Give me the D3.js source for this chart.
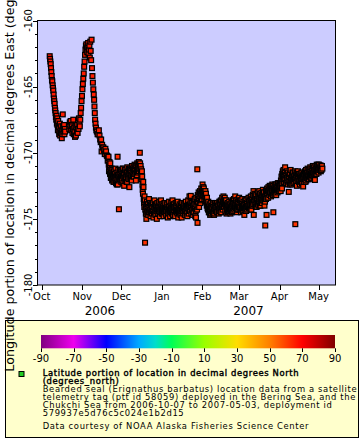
<!DOCTYPE html>
<html><head><meta charset="utf-8">
<script src="https://cdn.jsdelivr.net/npm/d3@7"></script>
<style>body{margin:0;background:#fff}svg{display:block;font-family:"DejaVu Sans",sans-serif}</style>
</head><body><svg id="c" width="360" height="440"></svg>
<script>
// Each row: [day of month, latitude (deg N), longitude fixes of that day (deg E)...]
const oct2006 = [
 [7,66.6,-162.7,-162.9,-163.1,-163.3],[8,66.5,-163.6,-163.9,-164.2,-164.5],[9,66.3,-164.6,-164.9,-165.1,-165.3],
 [10,66.1,-165.6,-165.9,-166.1,-166.3],[11,65.9,-166.6,-166.8,-167.0,-167.3],[12,65.8,-167.5,-167.2,-167.8,-167.4],
 [13,65.8,-167.9,-168.3,-167.6,-168.0],[14,65.8,-168.1,-168.6,-168.4,-167.8],[15,65.7,-168.7,-168.2,-168.5,-168.0],
 [16,65.7,-168.5,-168.9,-168.3,-168.6],[17,65.7,-167.1,-168.0,-168.4,-168.2],[18,65.7,-167.9,-168.6,-168.2,-168.4],
 [22,65.8,-168.2,-167.7,-168.0],[23,65.8,-167.6,-168.3,-167.9],[24,65.8,-168.0,-168.5,-168.2],[25,65.8,-167.5,-168.6,-168.1],
 [26,65.8,-168.4,-168.8,-168.0],[27,65.8,-168.7,-168.1,-168.4],[28,65.8,-167.9,-168.5,-168.2],[29,65.9,-168.2,-167.4,-167.8],
 [30,66.0,-168.0,-167.5,-167.0],[31,66.0,-166.6,-166.1,-165.7]
];
const nov2006 = [
 [1,65.9,-165.2,-164.8,-164.4],[2,65.8,-164.0,-163.5,-163.1],[3,65.7,-162.6,-162.2,-161.9],
 [4,65.6,-161.8,-162.1,-162.4],[5,65.6,-162.0,-161.7,-162.5],[6,65.6,-162.2,-161.9,-162.8],
 [7,65.6,-161.6,-162.3,-163.0],[8,65.6,-161.45,-163.6,-164.2],[9,65.5,-164.7,-165.2,-165.6],
 [10,65.4,-166.0,-166.5,-167.0,-167.5],[11,65.3,-167.8,-168.1,-168.3],[12,65.2,-168.4,-168.6],
 [13,65.1,-168.6,-168.3],[14,65.0,-168.7,-169.0],[15,64.9,-169.2,-169.0,-169.9],[16,64.8,-169.4,-169.6],
 [17,64.7,-169.6,-169.8],[18,64.6,-170.1,-169.7],[19,64.5,-169.9,-170.2],[20,64.4,-170.25,-170.6,-170.4],
 [21,64.3,-170.3,-170.9,-171.4,-171.1,-170.7],[22,64.2,-171.1,-171.6,-170.8,-171.3,-171.9],
 [23,64.1,-171.5,-171.9,-171.2,-171.7,-172.1],[24,64.0,-171.3,-172.0,-171.7,-171.5,-172.2],
 [25,64.0,-171.8,-171.4,-172.2,-171.6,-171.9],[26,63.9,-171.6,-172.1,-171.2,-171.8,-172.3],
 [27,63.9,-171.9,-171.5,-172.4,-171.7,-172.0],[28,63.9,-170.3,-172.4,-171.7,-171.3,-171.9,-172.1],
 [29,63.8,-174.27,-171.8,-171.5,-172.0,-171.3],[30,63.8,-171.6,-172.0,-171.3,-171.8,-172.2]
];
const dec2006 = [
 [1,63.7,-171.4,-171.9,-172.1,-171.6,-171.2],[2,63.7,-171.7,-171.2,-172.3,-171.9,-171.5],
 [3,63.6,-172.5,-171.6,-171.9,-171.3,-172.1],[4,63.6,-171.3,-171.8,-172.0,-171.5,-172.2],
 [5,63.6,-171.5,-172.2,-171.1,-171.7,-171.9],[6,63.5,-171.8,-171.4,-172.0,-171.2,-171.6],
 [7,63.5,-172.6,-171.6,-171.2,-171.9,-171.4],[8,63.5,-171.3,-171.9,-171.5,-171.7,-172.1],
 [9,63.4,-171.0,-171.7,-171.4,-171.2,-171.8],[10,63.4,-171.5,-171.1,-171.8,-171.3,-171.6],
 [11,63.4,-170.9,-171.4,-171.2,-171.6,-171.0],[12,63.3,-172.1,-171.0,-171.5,-171.3,-171.7],
 [13,63.3,-170.8,-171.3,-171.1,-171.5,-170.9],[14,63.3,-171.0,-170.7,-171.4,-171.2,-170.9],
 [15,63.2,-170.0,-170.8,-171.2,-171.0,-171.4],[16,63.1,-171.25,-171.6,-172.0,-171.4,-171.8],
 [17,62.9,-172.4,-172.8,-173.1,-172.2,-172.6],[18,62.7,-173.5,-173.8,-174.1,-173.3,-173.6],
 [19,62.5,-176.8,-174.3,-173.9,-174.6,-174.1],[20,62.3,-175.0,-174.2,-173.7,-174.5,-173.9],
 [21,62.2,-174.4,-173.9,-174.7,-174.1,-174.5],[22,62.1,-173.5,-174.1,-174.5,-173.8,-174.3],
 [23,62.0,-174.3,-174.8,-173.9,-174.5,-174.1],[24,62.0,-174.0,-174.6,-174.2,-173.8,-174.4],
 [25,61.9,-173.8,-174.4,-174.9,-174.1,-174.6],[26,61.9,-174.1,-173.6,-174.5,-173.9,-174.3],
 [27,61.9,-174.7,-174.2,-173.9,-174.4,-174.0],[28,61.8,-175.0,-174.3,-173.8,-174.6,-174.1],
 [29,61.8,-174.2,-174.6,-174.0,-174.4,-173.8],[30,61.8,-173.7,-174.3,-174.8,-174.1,-174.5],
 [31,61.8,-174.1,-173.6,-174.4,-173.9,-174.6]
];
const jan2007 = [
 [1,61.7,-174.3,-173.9,-174.6,-174.1,-174.4],[2,61.7,-174.0,-174.8,-174.4,-174.2,-173.8],
 [3,61.7,-174.5,-174.1,-173.8,-174.3,-174.6],[4,61.7,-174.2,-174.7,-174.4,-173.9,-174.1],
 [5,61.7,-173.9,-174.3,-174.9,-174.5,-174.1],[6,61.7,-174.6,-174.1,-173.7,-174.3,-174.4],
 [7,61.7,-174.3,-174.8,-174.0,-174.5,-174.2],[8,61.7,-173.8,-174.4,-174.2,-174.6,-174.0],
 [9,61.7,-173.6,-174.1,-174.7,-174.3,-173.9],[10,61.7,-174.3,-173.9,-174.5,-174.1,-174.7],
 [11,61.7,-174.8,-174.2,-173.8,-174.4,-174.0],[12,61.7,-174.0,-174.5,-174.3,-173.8,-174.6],
 [13,61.7,-173.7,-174.4,-174.9,-174.1,-174.2],[14,61.7,-174.6,-174.1,-173.9,-174.3,-174.5],
 [15,61.7,-174.2,-174.7,-174.0,-174.4,-173.8],[16,61.7,-174.9,-174.3,-173.8,-174.5,-174.1],
 [17,61.7,-174.1,-174.6,-174.4,-173.9,-174.2],[18,61.7,-173.9,-174.2,-174.7,-174.4,-174.0],
 [19,61.7,-174.4,-173.7,-174.1,-174.6,-174.3],[20,61.7,-174.0,-174.5,-174.8,-174.2,-173.9],
 [21,61.7,-173.6,-174.2,-174.6,-174.0,-174.4],[22,61.7,-173.3,-173.9,-174.4,-174.1,-173.7],
 [23,61.7,-173.26,-174.1,-174.6,-173.8,-174.3],[24,61.7,-174.3,-173.8,-174.7,-174.0,-174.5],
 [25,61.7,-174.0,-174.5,-173.7,-174.2,-173.9],[26,61.7,-173.5,-174.2,-174.8,-173.9,-174.4],
 [27,61.7,-174.9,-173.4,-174.0,-173.7,-174.3],[28,61.7,-171.25,-175.3,-173.2,-173.7,-174.1,-173.5],
 [29,61.7,-173.0,-173.5,-174.1,-173.3,-173.8],[30,61.7,-172.9,-173.3,-173.8,-173.1,-173.6],
 [31,61.7,-172.7,-173.1,-173.5,-172.9,-173.3]
];
const feb2007 = [
 [1,61.7,-172.4,-172.8,-173.2,-172.6,-173.0],[2,61.7,-172.7,-173.1,-173.5,-172.9,-173.3],
 [3,61.7,-173.3,-172.9,-173.7,-173.1,-173.5],[4,61.7,-173.6,-174.0,-173.4,-173.8,-174.2],
 [5,61.7,-173.9,-174.3,-173.7,-174.1,-174.5],[6,61.7,-174.1,-174.5,-173.9,-174.3,-174.7],
 [7,61.6,-174.3,-173.8,-174.6,-174.1,-174.4],[8,61.6,-174.0,-174.4,-174.2,-174.6,-173.8],
 [9,61.6,-174.5,-173.9,-174.1,-174.3,-174.7],[10,61.6,-174.6,-174.2,-173.8,-174.0,-174.4],
 [11,61.6,-174.0,-174.4,-174.2,-173.8,-174.5],[12,61.6,-173.8,-174.3,-174.5,-174.1,-174.0],
 [13,61.6,-174.1,-173.9,-174.6,-174.3,-173.7],[14,61.6,-174.4,-174.0,-173.7,-174.2,-174.5],
 [15,61.6,-173.6,-174.2,-174.5,-173.9,-174.1],[16,61.6,-173.4,-173.9,-174.3,-173.7,-174.1],
 [17,61.6,-173.3,-173.7,-174.1,-173.5,-173.9],[18,61.6,-173.4,-173.8,-174.4,-173.6,-174.0],
 [19,61.6,-173.6,-174.1,-174.6,-173.9,-174.3],[20,61.6,-174.2,-173.8,-174.5,-174.0,-174.3],
 [21,61.6,-174.0,-174.4,-173.7,-174.2,-173.9],[22,61.6,-174.3,-173.9,-174.6,-174.1,-174.4],
 [23,61.6,-173.8,-174.2,-174.5,-174.0,-173.6],[24,61.6,-174.1,-173.6,-174.4,-173.9,-174.2],
 [25,61.6,-173.5,-174.0,-174.3,-173.8,-174.1],[26,61.6,-173.3,-173.8,-174.2,-173.6,-174.0],
 [27,61.6,-173.6,-174.1,-174.5,-173.8,-174.3],[28,61.6,-174.0,-173.7,-174.3,-173.5,-174.1]
];
const mar2007 = [
 [1,61.6,-173.4,-173.9,-174.3,-173.6,-174.1],[2,61.6,-174.1,-173.6,-174.5,-173.8,-174.3],
 [3,61.6,-173.8,-174.2,-173.5,-174.0,-174.4],[4,61.6,-174.0,-174.4,-173.7,-174.2,-173.9],
 [5,61.6,-174.7,-173.9,-174.2,-173.6,-174.4],[6,61.6,-173.6,-174.1,-174.4,-173.8,-174.2],
 [7,61.6,-173.8,-174.3,-173.5,-174.0,-174.1],[8,61.6,-174.0,-173.4,-174.2,-173.7,-173.9],
 [9,61.6,-173.6,-174.1,-173.9,-173.4,-174.3],[10,61.7,-173.3,-173.8,-174.3,-173.6,-174.0],
 [11,61.7,-173.5,-174.0,-173.2,-173.7,-173.9],[12,61.7,-172.9,-174.7,-173.6,-173.3,-173.9],
 [13,61.7,-173.4,-173.1,-173.9,-173.6,-174.1],[14,61.7,-173.2,-173.7,-174.1,-173.5,-173.9],
 [15,61.7,-173.5,-173.0,-173.8,-173.3,-174.0],[16,61.7,-173.3,-173.7,-172.9,-173.5,-174.0],
 [17,61.7,-173.1,-173.6,-174.0,-173.4,-173.8],[18,61.8,-173.05,-173.4,-173.8,-173.2,-173.6],
 [19,61.8,-173.2,-172.8,-173.6,-173.0,-173.4],[20,61.8,-173.0,-173.5,-174.0,-173.3,-173.7],
 [21,61.8,-175.5,-173.3,-172.9,-173.5,-173.1],[22,61.8,-174.7,-173.1,-172.7,-173.4,-172.9],
 [23,61.8,-172.9,-173.4,-172.6,-173.1,-172.8],[24,61.9,-172.8,-173.2,-172.5,-173.0,-172.7],
 [25,61.9,-173.0,-172.6,-173.3,-172.8,-172.5],[26,61.9,-172.7,-173.1,-172.4,-172.9,-173.2],
 [27,61.9,-172.5,-174.5,-172.9,-172.7,-173.1],[28,61.9,-172.6,-173.0,-172.8,-172.4,-173.2],
 [29,61.9,-172.4,-172.9,-173.2,-172.6,-172.8],[30,62.0,-172.7,-172.5,-173.0,-172.3,-172.8],
 [31,62.0,-172.6,-172.3,-172.9,-172.5,-172.7]
];
const apr2007 = [
 [1,62.0,-172.8,-172.3,-172.6,-172.5,-172.9],[2,62.0,-172.1,-172.5,-171.8,-172.3,-172.7],
 [3,62.0,-171.6,-172.0,-171.4,-171.8,-172.2],[4,62.0,-171.3,-171.8,-172.2,-171.6,-172.0],
 [5,62.0,-171.5,-171.1,-172.0,-171.7,-172.3],[6,62.0,-171.7,-172.3,-171.4,-171.9,-172.1],
 [7,62.0,-171.9,-171.5,-172.4,-171.7,-172.1],[8,62.0,-172.96,-171.8,-172.2,-171.6,-172.4],
 [9,62.0,-171.6,-172.1,-171.3,-171.9,-172.3],[10,62.0,-171.9,-172.4,-171.7,-172.1,-171.5],
 [11,62.0,-172.0,-171.5,-172.3,-171.8,-172.1],[12,62.0,-171.8,-172.2,-171.6,-172.0,-171.4],
 [13,62.0,-175.4,-172.0,-171.7,-172.2,-171.5],[14,62.0,-171.9,-172.5,-171.5,-172.1,-171.7],
 [15,62.1,-171.4,-172.0,-171.8,-171.6,-172.2],[16,62.1,-172.1,-171.6,-172.4,-171.8,-172.0],
 [17,62.1,-171.7,-172.2,-171.9,-171.5,-172.0],[18,62.1,-172.3,-171.8,-171.5,-172.0,-171.7],
 [19,62.1,-172.55,-171.9,-172.2,-171.6,-172.0],[20,62.1,-171.6,-172.0,-171.4,-171.8,-172.2],
 [21,62.1,-171.8,-171.3,-172.1,-171.6,-171.9],[22,62.1,-171.5,-171.9,-171.2,-171.7,-172.0],
 [23,62.1,-171.7,-171.3,-172.0,-171.5,-171.8],[24,62.2,-171.4,-171.8,-171.1,-171.6,-171.9],
 [25,62.2,-171.6,-171.2,-171.9,-171.4,-171.7],[26,62.2,-171.3,-171.7,-171.0,-171.5,-171.8],
 [27,62.2,-171.5,-171.1,-171.8,-171.3,-171.6],[28,62.2,-172.06,-171.4,-171.0,-171.6,-171.2],
 [29,62.2,-171.2,-171.6,-170.9,-171.4,-171.1],[30,62.2,-171.0,-171.4,-171.2,-170.9,-171.5]
];
const may2007 = [
 [1,62.2,-170.9,-171.3,-171.1,-171.2],[2,62.2,-171.2,-170.95,-171.4,-171.1],[3,62.2,-171.3,-171.0,-171.2]
];
const monthSets = [[2006,10,oct2006],[2006,11,nov2006],[2006,12,dec2006],[2007,1,jan2007],
                   [2007,2,feb2007],[2007,3,mar2007],[2007,4,apr2007],[2007,5,may2007]];

const timeDomain = ["2006-09-28T04:00:00Z","2007-05-13T11:24:00Z"];
const lonDomain = [-180,-160];
const lonTicks = [-160,-165,-170,-175,-180];
const monthTickDates = ["2006-10-01","2006-11-01","2006-12-01","2007-01-01","2007-02-01","2007-03-01","2007-04-01","2007-05-01"];
const monthLabels = ["Oct","Nov","Dec","Jan","Feb","Mar","Apr","May"];
const yearLabels = ["2006","2007"];
const latTicks = [-90,-70,-50,-30,-10,10,30,50,70,90];
const paletteStops = [-90,-70,-50,-30,-20,-10,10,30,50,60,70,90];
const paletteColors = ["#800080","#ee00ee","#0000ff","#00aaff","#00ddcc","#00ff55","#99ff00","#ffdd00","#ff8000","#ff4000","#ff0000","#800000"];
const yTitle = "Longitude portion of location in decimal degrees East (degrees_east)";
const legendTitle = ["Latitude portion of location in decimal degrees North","(degrees_north)"];
const legendBody = ["Bearded seal (Erignathus barbatus) location data from a satellite",
 "telemetry tag (ptt id 58059) deployed in the Bering Sea, and the",
 "Chukchi Sea from 2006-10-07 to 2007-05-03, deployment id",
 "579937e5d76c5c024e1b2d15"];
const legendCredit = "Data courtesy of NOAA Alaska Fisheries Science Center";

const points = [];
monthSets.forEach(([yr, mo, rows]) => rows.forEach(r => {
  const [day, lat, ...lons] = r;
  lons.forEach((lon, i) => {
    const t = new Date(Date.UTC(yr, mo - 1, day) + (i + 0.5) / lons.length * 86400000);
    points.push({t, lat, lon});
  });
}));

const svg = d3.select("#c");
const L = 38, R = 335, T = 20.5, B = 285;
const x = d3.scaleUtc().domain(timeDomain.map(d => new Date(d))).range([L, R]);
const y = d3.scaleLinear().domain(lonDomain).range([B, T]);
const color = d3.scaleLinear().domain(paletteStops).range(paletteColors).interpolate(d3.interpolateRgb).clamp(true);

svg.append("rect").attr("width",360).attr("height",440).attr("fill","#fff");
svg.append("rect").attr("x",5.5).attr("y",320.5).attr("width",353).attr("height",117)
  .attr("fill","#ffffcc").attr("stroke","#000").attr("stroke-width",1);
svg.append("rect").attr("x",L).attr("y",T).attr("width",R-L).attr("height",B-T).attr("fill","#ccccff");

svg.append("g").selectAll("rect").data(points).join("rect")
  .attr("x", d => x(d.t) - 2.4).attr("y", d => y(d.lon) - 2.4)
  .attr("width",4.8).attr("height",4.8)
  .attr("fill", d => color(d.lat)).attr("stroke","#000").attr("stroke-width",1.25);

svg.append("rect").attr("x",L-0.5).attr("y",T).attr("width",R-L+1).attr("height",B-T)
  .attr("fill","none").attr("stroke","#000").attr("stroke-width",1);

const yg = svg.append("g");
yg.selectAll("line.minor").data(d3.range(-180,-159,1)).join("line").attr("class","minor")
  .attr("x1",L-0.5).attr("x2",L-3).attr("y1",d=>Math.round(y(d))+0.5).attr("y2",d=>Math.round(y(d))+0.5).attr("stroke","#000");
yg.selectAll("line.major").data(lonTicks).join("line").attr("class","major")
  .attr("x1",L-0.5).attr("x2",L-5).attr("y1",d=>Math.round(y(d))+0.5).attr("y2",d=>Math.round(y(d))+0.5).attr("stroke","#000");
yg.selectAll("text").data(lonTicks).join("text")
  .attr("transform", d => `translate(32.3,${y(d)}) rotate(-90)`)
  .attr("text-anchor","middle").attr("font-size",10).text(d => d);
svg.append("text").attr("transform",`translate(13.5,${(T+B)/2}) rotate(-90)`)
  .attr("text-anchor","middle").attr("font-size",12.7).text(yTitle);

const xg = svg.append("g");
const mt = monthTickDates.map(d => new Date(d + "T00:00:00Z"));
xg.selectAll("line").data(mt).join("line")
  .attr("x1",d=>Math.round(x(d))+0.5).attr("x2",d=>Math.round(x(d))+0.5).attr("y1",B).attr("y2",B+5).attr("stroke","#000");
xg.selectAll("text").data(mt).join("text")
  .attr("x",d=>x(d)).attr("y",300).attr("text-anchor","middle").attr("font-size",10)
  .text((d,i) => monthLabels[i]);
const yearCenters = yearLabels.map(yl => {
  const a = Math.max(x(new Date(`${yl}-01-01T00:00:00Z`)), L);
  const b = Math.min(x(new Date(`${+yl+1}-01-01T00:00:00Z`)), R);
  return (a + b) / 2;
});
xg.selectAll("text.yr").data(yearLabels).join("text").attr("class","yr")
  .attr("x",(d,i)=>yearCenters[i]).attr("y",315).attr("text-anchor","middle").attr("font-size",12).text(d=>d);

const cb = d3.scaleLinear().domain([-90,90]).range([41,335]);
const grad = svg.append("defs").append("linearGradient").attr("id","pal");
paletteStops.forEach((s,i) => grad.append("stop").attr("offset",(s+90)/180).attr("stop-color",paletteColors[i]));
svg.append("rect").attr("x",cb(-90)).attr("y",335).attr("width",cb(90)-cb(-90)).attr("height",13.3).attr("fill","url(#pal)");
svg.append("g").selectAll("line").data(latTicks).join("line")
  .attr("x1",d=>Math.round(cb(d))+0.5).attr("x2",d=>Math.round(cb(d))+0.5).attr("y1",348.3).attr("y2",352).attr("stroke","#000");
svg.append("g").selectAll("text").data(latTicks).join("text")
  .attr("x",d=>cb(d)).attr("y",361.5).attr("text-anchor","middle").attr("font-size",10).text(d=>d);

svg.append("rect").attr("x",19).attr("y",371.5).attr("width",5).attr("height",5)
  .attr("fill","#22cc22").attr("stroke","#000").attr("stroke-width",1);
const lg = svg.append("g").attr("font-size",8.4).attr("letter-spacing",0.65);
const titleY = [375.5, 383.8], bodyY = [392.4, 400.3, 408.2, 416.1], creditY = 428.8;
lg.selectAll("text.t").data(legendTitle).join("text").attr("class","t")
  .attr("x",42.7).attr("y",(d,i)=>titleY[i]).attr("stroke","#000").attr("stroke-width",0.4).text(d=>d);
lg.selectAll("text.b").data(legendBody).join("text").attr("class","b")
  .attr("x",42.7).attr("y",(d,i)=>bodyY[i]).text(d=>d);
lg.append("text").attr("x",42.7).attr("y",creditY).text(legendCredit);
</script></body></html>
